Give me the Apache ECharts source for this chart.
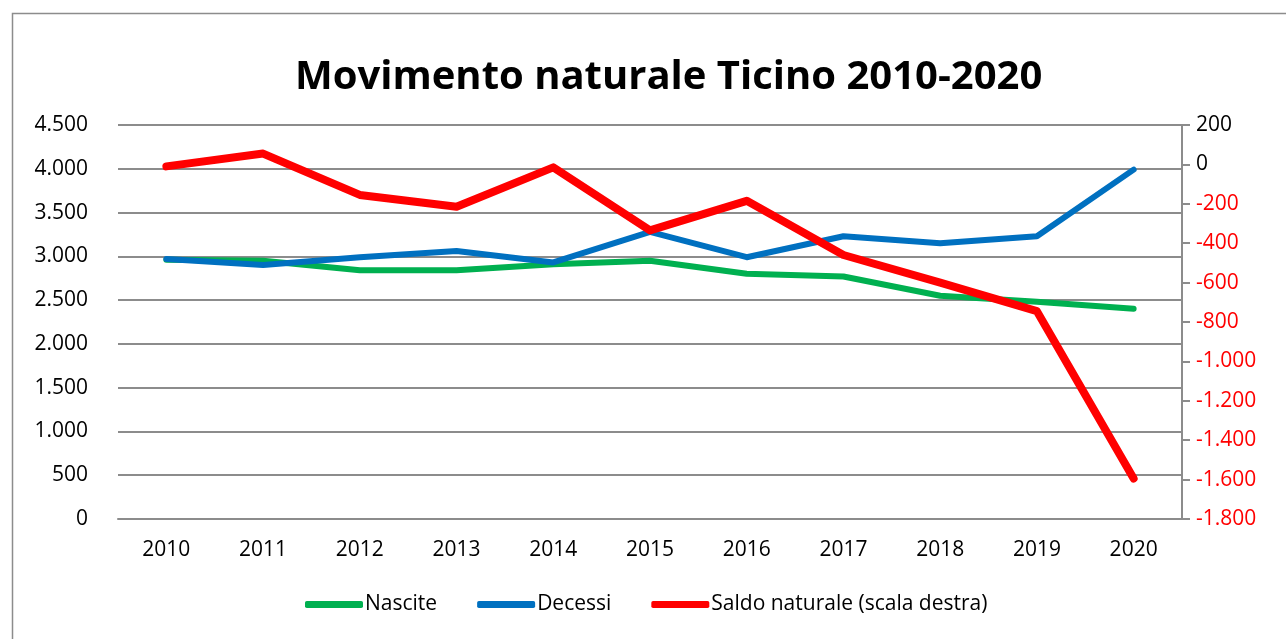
<!DOCTYPE html>
<html>
<head>
<meta charset="utf-8">
<script src="https://cdn.jsdelivr.net/npm/echarts@6/dist/echarts.min.js"></script>
<style>
  html, body { margin: 0; padding: 0; background: #fff; }
  #chart { width: 1286px; height: 639px; }
</style>
</head>
<body>
<div id="chart"></div>
<script>
const years = ['2010', '2011', '2012', '2013', '2014', '2015', '2016', '2017', '2018', '2019', '2020']
const nascite = [2960, 2950, 2840, 2840, 2910, 2950, 2800, 2770, 2550, 2480, 2400]
const decessi = [2970, 2900, 2990, 3060, 2930, 3280, 2990, 3230, 3150, 3230, 3990]
const saldo = [-10, 55, -155, -215, -15, -335, -185, -460, -600, -745, -1595]

const fmt = v => {
  const s = Math.abs(v).toString().replace(/\B(?=(\d{3})+(?!\d))/g, '.')
  return (v < 0 ? '-' : '') + s
}

const font = 'Open Sans'
const chart = echarts.init(document.getElementById('chart'))

chart.setOption({
  animation: false,
  title: {
    text: 'Movimento naturale Ticino 2010-2020',
    left: 290,
    top: 53,
    textStyle: { fontFamily: font, fontWeight: 'bold', fontSize: 40, color: '#000' },
  },
  graphic: [
    {
      type: 'rect',
      shape: { x: 12.5, y: 13.5, width: 1300, height: 640 },
      style: { fill: 'none', stroke: '#8c8c8c', lineWidth: 1.5 },
      silent: true,
    },
  ],
  legend: {
    bottom: 19,
    left: 300,
    itemWidth: 58,
    itemHeight: 7,
    itemGap: 40,
    icon: 'roundRect',
    textStyle: { fontFamily: font, fontSize: 21, color: '#000', padding: [0, 0, 0, -3] },
    data: ['Nascite', 'Decessi', 'Saldo naturale (scala destra)'],
  },
  grid: { left: 118, right: 104, top: 125, bottom: 120 },
  xAxis: {
    type: 'category',
    data: years,
    boundaryGap: true,
    axisLine: { show: true, lineStyle: { color: '#8c8c8c', width: 2 } },
    axisTick: { show: false },
    axisLabel: { fontFamily: font, fontSize: 21, color: '#000', margin: 21 },
  },
  yAxis: [
    {
      type: 'value',
      min: 0,
      max: 4500,
      interval: 500,
      axisLine: { show: false },
      axisTick: { show: false },
      splitLine: { lineStyle: { color: '#8c8c8c', width: 2 } },
      axisLabel: { fontFamily: font, fontSize: 21, color: '#000', margin: 30, formatter: fmt },
    },
    {
      type: 'value',
      min: -1800,
      max: 200,
      interval: 200,
      position: 'right',
      axisLine: { show: true, lineStyle: { color: '#8c8c8c', width: 2 } },
      axisTick: { show: true, length: 8, lineStyle: { color: '#8c8c8c', width: 2 } },
      splitLine: { show: false },
      axisLabel: {
        fontFamily: font,
        fontSize: 21,
        margin: 14,
        formatter: fmt,
        color: v => (Number(v) < 0 ? '#ff0000' : '#000'),
      },
    },
  ],
  series: [
    {
      name: 'Nascite',
      type: 'line',
      data: nascite,
      symbol: 'none',
      color: '#00b050',
      lineStyle: { width: 6, cap: 'round', join: 'round' },
      z: 2,
    },
    {
      name: 'Decessi',
      type: 'line',
      data: decessi,
      symbol: 'none',
      color: '#0070c0',
      lineStyle: { width: 6, cap: 'round', join: 'round' },
      z: 3,
    },
    {
      name: 'Saldo naturale (scala destra)',
      type: 'line',
      yAxisIndex: 1,
      data: saldo,
      symbol: 'none',
      color: '#ff0000',
      lineStyle: { width: 8, cap: 'round', join: 'round' },
      z: 4,
    },
  ],
})
</script>
</body>
</html>
